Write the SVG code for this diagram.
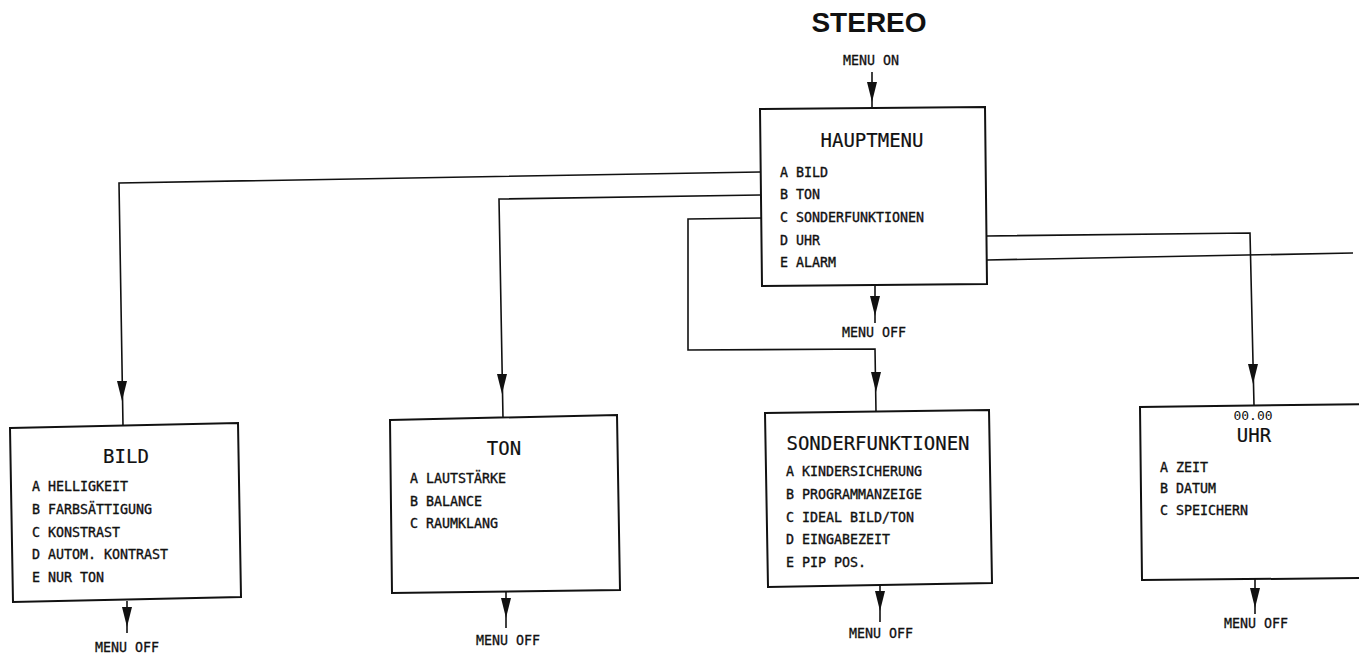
<svg xmlns="http://www.w3.org/2000/svg" xmlns:xlink="http://www.w3.org/1999/xlink" width="1359" height="655" viewBox="0 0 1359 655">
<style>
.box{fill:#fff;stroke:#111;stroke-width:2;stroke-linejoin:miter}
.ln{fill:none;stroke:#111;stroke-width:1.6}
text{font-family:"DejaVu Sans Mono","Liberation Mono",monospace;fill:#111}
.title{font-size:19px;text-anchor:middle;stroke:#111;stroke-width:0.2}
.item{font-size:13.3px;stroke:#111;stroke-width:0.35}
.off{font-size:13.3px;text-anchor:middle;stroke:#111;stroke-width:0.3}
.stereo{font-family:"Liberation Sans",Arial,sans-serif;font-size:28px;font-weight:bold;text-anchor:middle}
</style>
<defs>
<path id="ah" d="M-5,-20 L5,-20 L0,0 Z" fill="#111"/>
</defs>
<rect width="1359" height="655" fill="#fff"/>
<text class="stereo" x="869" y="32">STEREO</text>
<g id="connectors">
<path class="ln" d="M872,72 L872,108"/>
<use xlink:href="#ah" x="872" y="102"/>
<text class="off" x="871" y="65">MENU ON</text>
<path class="ln" d="M760,172 L119,183 L123,426"/>
<use xlink:href="#ah" x="122" y="401"/>
<path class="ln" d="M760,195 L499,199 L503,418"/>
<use xlink:href="#ah" x="502" y="394"/>
<path class="ln" d="M762,218 L688,219 L688,350 L875,349 L876,412"/>
<use xlink:href="#ah" x="876" y="392"/>
<path class="ln" d="M987,236 L1250,233 L1254,405"/>
<use xlink:href="#ah" x="1253" y="384"/>
<path class="ln" d="M987,260 L1353,253"/>
<path class="ln" d="M875,285 L875,323"/>
<use xlink:href="#ah" x="875" y="316"/>
<path class="ln" d="M127,601 L127,633"/>
<use xlink:href="#ah" x="127" y="627"/>
<path class="ln" d="M506,592 L506,628"/>
<use xlink:href="#ah" x="506" y="618"/>
<path class="ln" d="M880,585 L880,622"/>
<use xlink:href="#ah" x="880" y="611"/>
<path class="ln" d="M1255,579 L1255,614"/>
<use xlink:href="#ah" x="1255" y="608"/>
</g>
<g id="hauptmenu">
<polygon class="box" points="760,109 985,107 987,284 762,286"/>
<text class="title" x="872" y="147">HAUPTMENU</text>
<text class="item" x="780" y="177">A BILD</text>
<text class="item" x="780" y="199">B TON</text>
<text class="item" x="780" y="222">C SONDERFUNKTIONEN</text>
<text class="item" x="780" y="245">D UHR</text>
<text class="item" x="780" y="267">E ALARM</text>
<text class="off" x="874" y="337">MENU OFF</text>
</g>
<g id="bild">
<polygon class="box" points="10,428 238,423 241,597 13,602"/>
<text class="title" x="126" y="463">BILD</text>
<text class="item" x="32" y="491">A HELLIGKEIT</text>
<text class="item" x="32" y="514">B FARBSÄTTIGUNG</text>
<text class="item" x="32" y="537">C KONSTRAST</text>
<text class="item" x="32" y="559">D AUTOM. KONTRAST</text>
<text class="item" x="32" y="582">E NUR TON</text>
<text class="off" x="127" y="652">MENU OFF</text>
</g>
<g id="ton">
<polygon class="box" points="390,420 617,415 620,590 392,593"/>
<text class="title" x="504" y="455">TON</text>
<text class="item" x="410" y="483">A LAUTSTÄRKE</text>
<text class="item" x="410" y="506">B BALANCE</text>
<text class="item" x="410" y="528">C RAUMKLANG</text>
<text class="off" x="508" y="645">MENU OFF</text>
</g>
<g id="sonderfunktionen">
<polygon class="box" points="765,413 989,410 992,583 768,587"/>
<text class="title" x="878" y="450">SONDERFUNKTIONEN</text>
<text class="item" x="786" y="476">A KINDERSICHERUNG</text>
<text class="item" x="786" y="499">B PROGRAMMANZEIGE</text>
<text class="item" x="786" y="522">C IDEAL BILD/TON</text>
<text class="item" x="786" y="544">D EINGABEZEIT</text>
<text class="item" x="786" y="567">E PIP POS.</text>
<text class="off" x="881" y="638">MENU OFF</text>
</g>
<g id="uhr">
<polygon class="box" points="1370,404 1140,407 1142,580 1370,578"/>
<text x="1253" y="420" font-size="13" text-anchor="middle">00.00</text>
<text class="title" x="1254" y="442">UHR</text>
<text class="item" x="1160" y="472">A ZEIT</text>
<text class="item" x="1160" y="493">B DATUM</text>
<text class="item" x="1160" y="515">C SPEICHERN</text>
<text class="off" x="1256" y="628">MENU OFF</text>
</g>
</svg>
